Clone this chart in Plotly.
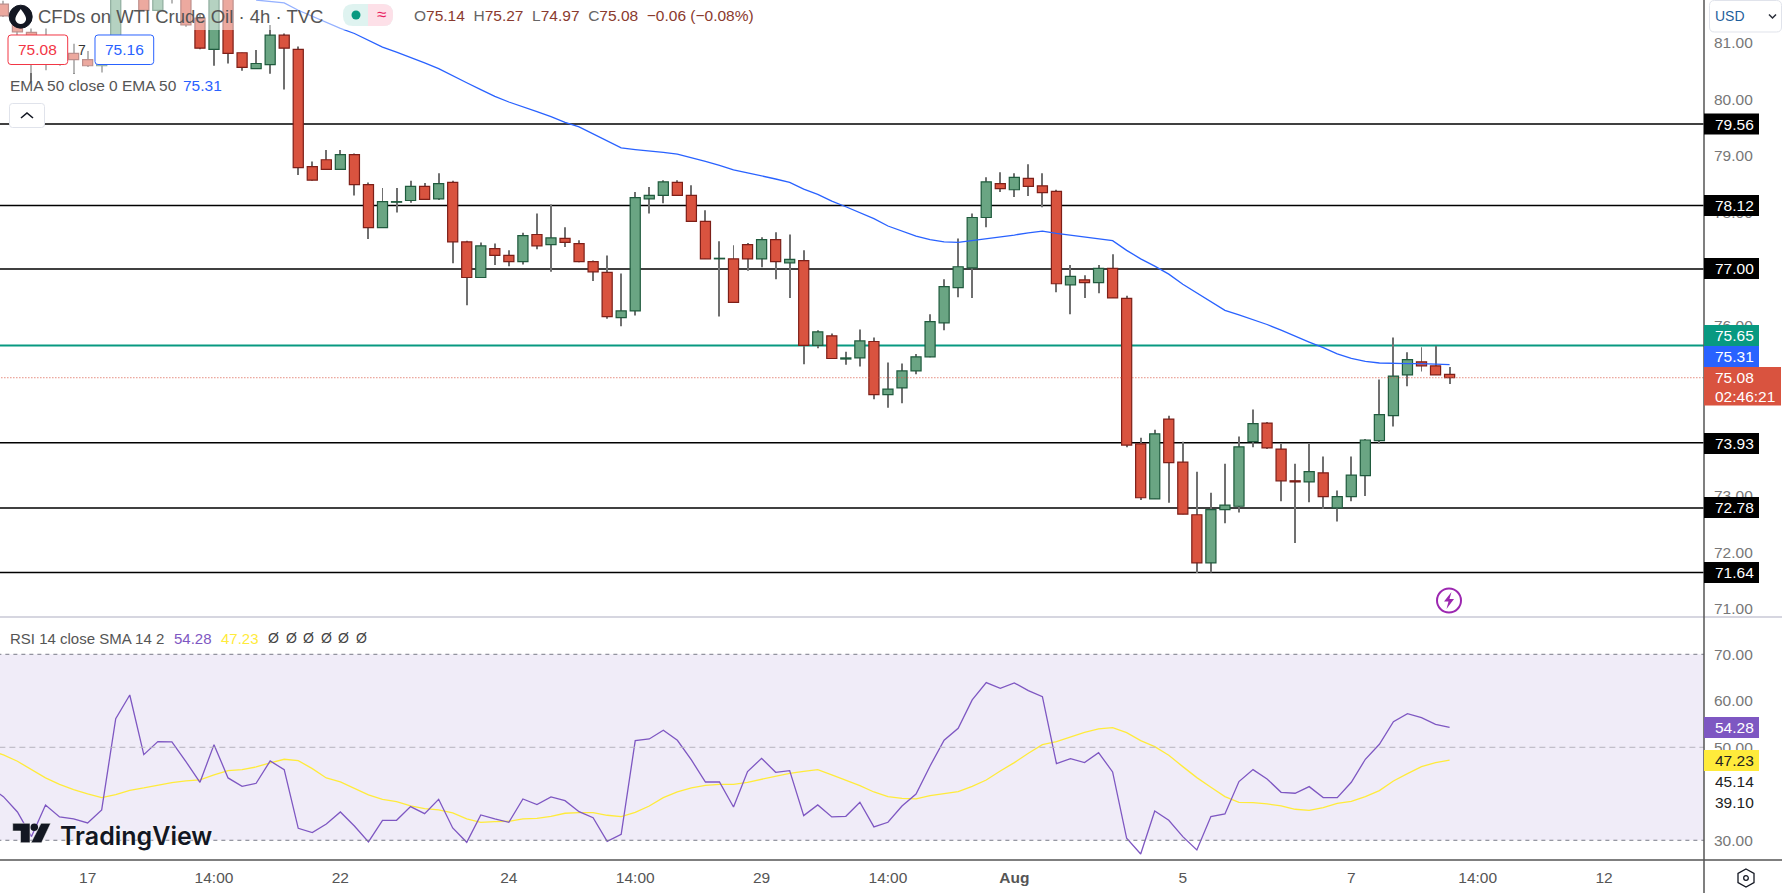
import plotly.graph_objects as go

W, H = 1782, 893

open_prices = [81.68,81.47,81.18,81.10,80.87,80.81,80.70,80.59,80.95,82.00,
 82.60,81.57,81.90,81.95,81.43,80.88,81.85,80.82,80.54,80.61,
 81.13,80.88,78.81,78.93,78.76,79.02,78.49,77.73,78.18,78.21,
 78.46,78.24,78.53,77.48,76.85,77.36,77.24,77.13,77.61,77.43,
 77.54,77.45,77.13,76.94,76.14,76.26,78.24,78.30,78.53,78.30,
 77.84,77.18,77.18,77.43,77.18,77.52,77.11,77.15,75.65,75.82,
 75.41,75.43,75.72,74.78,74.90,75.20,75.45,76.05,76.67,77.02,
 77.91,78.51,78.40,78.60,78.47,78.37,76.72,76.81,76.76,77.01,
 76.48,73.91,72.94,74.35,73.59,72.66,71.81,72.75,72.81,73.95,
 74.28,73.82,73.26,73.24,73.40,72.78,72.98,73.35,73.97,74.41,
 75.13,75.36,75.29,75.14]
high_prices = [81.74,81.50,81.25,81.25,80.95,80.98,80.85,80.98,82.20,82.80,
 82.70,82.00,82.10,82.00,81.50,82.00,81.90,80.82,80.87,81.31,
 81.16,80.93,78.90,79.10,79.10,79.04,78.53,78.43,78.43,78.56,
 78.52,78.69,78.56,77.50,77.47,77.45,77.33,77.64,77.98,78.14,
 77.74,77.51,77.15,77.24,76.92,78.36,78.45,78.57,78.57,78.48,
 78.04,77.49,77.42,77.46,77.56,77.65,77.61,77.33,75.92,75.86,
 75.54,75.93,75.79,75.35,75.33,75.50,76.20,76.82,77.54,77.98,
 78.62,78.71,78.69,78.85,78.69,78.40,77.07,76.89,77.07,77.26,
 76.53,74.02,74.16,74.41,73.95,73.42,73.05,73.56,74.04,74.52,
 74.30,73.91,73.56,73.91,73.69,73.09,73.69,74.00,75.05,75.79,
 75.53,75.62,75.64,75.27]
low_prices = [81.45,81.13,80.31,80.51,80.59,80.45,80.57,80.47,80.81,81.90,
 81.55,81.50,81.69,81.28,80.88,80.59,80.63,80.50,80.54,80.45,
 80.17,78.66,78.56,78.75,78.75,78.30,77.53,77.73,78.00,78.17,
 78.22,78.22,77.10,76.36,76.85,77.07,77.05,77.08,77.35,76.95,
 77.39,77.12,76.79,76.12,75.99,76.18,77.98,78.16,78.29,77.83,
 77.18,76.16,76.40,76.97,77.03,76.82,76.49,75.32,75.60,75.41,
 75.31,75.28,74.70,74.55,74.63,75.14,75.44,75.92,76.50,76.49,
 77.74,78.36,78.27,78.29,78.09,76.59,76.20,76.49,76.57,76.49,
 73.85,72.92,72.94,72.87,72.67,71.63,71.64,72.51,72.70,73.85,
 73.82,72.90,72.16,72.88,72.76,72.54,72.90,72.99,73.91,74.22,
 74.93,75.19,75.13,74.97]
close_prices = [81.47,81.19,80.93,80.87,80.81,80.70,80.59,80.87,82.00,82.60,
 81.57,81.90,81.95,81.31,80.90,81.85,80.81,80.56,80.63,81.13,
 80.90,78.79,78.57,78.76,79.02,78.49,77.73,78.19,78.19,78.46,
 78.23,78.51,77.48,76.85,77.41,77.24,77.13,77.59,77.41,77.55,
 77.47,77.13,76.95,76.16,76.26,78.26,78.30,78.54,78.30,77.84,
 77.18,77.19,76.41,77.18,77.52,77.13,77.17,75.65,75.89,75.42,
 75.43,75.73,74.78,74.88,75.20,75.45,76.07,76.69,77.04,77.91,
 78.54,78.42,78.62,78.46,78.35,76.74,76.87,76.76,77.01,76.49,
 73.89,72.96,74.09,73.58,72.67,71.81,72.75,72.83,73.86,74.27,
 73.84,73.26,73.24,73.42,72.98,72.98,73.36,73.98,74.43,75.11,
 75.40,75.29,75.13,75.08]
ema_50 = [None]*18 + [81.75,81.73,81.70,81.57,81.46,81.35,81.25,81.16,81.04,80.92,
 80.83,80.74,80.64,80.54,80.41,80.29,80.17,80.05,79.95,79.87,
 79.78,79.69,79.59,79.51,79.39,79.26,79.14,79.11,79.09,79.06,
 79.03,78.97,78.90,78.83,78.75,78.70,78.65,78.59,78.53,78.41,
 78.32,78.20,78.10,78.00,77.89,77.76,77.67,77.58,77.52,77.48,
 77.47,77.50,77.53,77.56,77.60,77.64,77.67,77.63,77.60,77.56,
 77.54,77.50,77.33,77.18,77.05,76.91,76.73,76.58,76.43,76.27,
 76.19,76.11,76.02,75.92,75.81,75.71,75.61,75.50,75.42,75.37,
 75.34,75.33,75.33,75.33,75.32,75.31]
# the two RSI lists start one bar earlier, just left of the pane edge
rsi_bars = list(range(-1, 104))
rsi_14 = [41.50,39.39,36.09,30.80,37.60,35.02,34.59,33.73,36.52,56.16,61.25,
 48.42,51.22,51.15,46.92,42.47,50.57,43.41,41.61,42.26,47.06,
 45.20,32.58,31.65,33.51,36.09,33.08,29.64,34.30,34.30,37.24,
 35.73,38.82,32.65,29.57,35.45,34.59,33.87,38.89,37.67,39.32,
 38.53,36.16,34.87,29.78,31.29,51.43,51.79,53.66,51.51,47.28,
 42.54,42.54,37.17,44.77,47.63,44.62,44.98,35.30,37.60,35.02,
 35.16,38.17,32.87,33.87,37.38,39.96,45.99,51.51,54.09,60.18,
 63.91,62.69,63.84,62.19,60.90,46.49,47.56,46.70,48.85,44.70,
 30.43,27.06,36.31,34.30,30.79,27.92,35.09,35.66,42.62,45.20,
 43.19,40.32,40.11,41.54,39.18,39.18,42.47,47.42,50.65,55.52,
 57.24,56.38,54.95,54.28]
rsi_sma = [49.40,48.35,46.99,45.27,43.41,42.04,40.90,39.96,39.18,39.82,40.75,
 41.25,41.90,42.40,42.76,42.97,44.05,44.98,45.20,45.77,46.63,
 47.42,47.13,45.41,43.41,42.54,41.18,39.75,38.82,38.32,37.38,
 36.81,36.52,35.88,34.59,33.87,34.01,34.09,34.59,34.73,35.16,
 35.81,35.95,35.95,35.38,35.09,36.02,37.38,39.18,40.39,41.25,
 41.83,42.04,42.04,42.47,43.12,43.62,44.41,44.84,45.20,44.05,
 42.90,41.76,40.39,39.39,39.03,38.89,39.61,40.11,40.47,41.61,
 42.97,44.91,46.70,48.71,50.57,51.22,52.22,53.23,53.94,54.23,
 53.15,51.43,50.14,48.28,45.84,43.48,41.40,39.39,38.17,38.10,
 37.81,37.38,36.67,36.45,37.03,37.96,38.39,39.39,40.68,42.76,
 44.34,45.84,46.70,47.23]

support_resistance = [79.56, 78.12, 77.00, 73.93, 72.78, 71.64]
teal_level = 75.65
last_price = 75.08
price_ticks = [71, 72, 73, 74, 75, 76, 77, 78, 79, 80, 81]
rsi_ticks = [30, 50, 60, 70]
time_tick_bars = [6, 15, 24, 36, 45, 54, 63, 72, 84, 96, 105, 114]
time_tick_text = ["17", "14:00", "22", "24", "14:00", "29", "14:00", "<b>Aug</b>", "5", "7", "14:00", "12"]

FONT = "Liberation Sans"
RED, RED_EDGE = "#d9533f", "#7d1f18"
GREEN, GREEN_EDGE = "#6aa583", "#1f5a3d"
WICK = "#707070"
PURPLE, YELLOW, BLUE, TEAL = "#7e57c2", "#ffeb3b", "#2962ff", "#089981"

AXIS_X, PRICE_BOTTOM, RSI_BOTTOM = 1704, 617, 860
bars = list(range(len(close_prices)))


def px(x):
    return x / W


def py(y):
    return 1 - y / H


def pt(x, y):
    return f"{px(x):.5f},{py(y):.5f}"


def poly(points):
    return "M" + " L".join(pt(*p) for p in points) + " Z"


def rrect(x0, y0, x1, y1, r):
    return (f"M{pt(x0 + r, y0)} L{pt(x1 - r, y0)} Q{pt(x1, y0)} {pt(x1, y0 + r)} "
            f"L{pt(x1, y1 - r)} Q{pt(x1, y1)} {pt(x1 - r, y1)} L{pt(x0 + r, y1)} "
            f"Q{pt(x0, y1)} {pt(x0, y1 - r)} L{pt(x0, y0 + r)} Q{pt(x0, y0)} {pt(x0 + r, y0)} Z")


shapes, notes = [], []


def rect(x0, y0, x1, y1, fill, opacity=1, layer="above"):
    shapes.append(dict(type="rect", xref="paper", yref="paper", x0=px(x0), x1=px(x1), y0=py(y0), y1=py(y1),
                       fillcolor=fill, opacity=opacity, line_width=0, layer=layer))


def path(d, fill="rgba(0,0,0,0)", line="rgba(0,0,0,0)", width=1):
    shapes.append(dict(type="path", xref="paper", yref="paper", path=d, fillcolor=fill,
                       line=dict(color=line, width=width), layer="above"))


def circle(cx, cy, r, fill="rgba(0,0,0,0)", line="rgba(0,0,0,0)", width=1):
    shapes.append(dict(type="circle", xref="paper", yref="paper", x0=px(cx - r), x1=px(cx + r),
                       y0=py(cy + r), y1=py(cy - r), fillcolor=fill, line=dict(color=line, width=width), layer="above"))


def hline(level, axis, color, width, dash="solid", layer="below"):
    shapes.append(dict(type="line", xref="x", yref=axis, x0=-1, x1=122, y0=level, y1=level,
                       line=dict(color=color, width=width, dash=dash), layer=layer))


def text(x, y, s, color="#555555", size=15, anchor="left", **font):
    notes.append(dict(xref="paper", yref="paper", x=px(x), y=py(y), text=s, showarrow=False,
                      xanchor=anchor, yanchor="middle", borderpad=0,
                      font=dict(family=font.pop("family", FONT), size=size, color=color, **font)))


def price_box(y0, y1, s, bg, color="#ffffff", x1=1759):
    rect(AXIS_X, y0, x1, y1, bg)
    text(1714, (y0 + y1) / 2, s, color=color, size=15.5)


# levels and RSI band
for level in support_resistance:
    hline(level, "y", "#000000", 1.5)
hline(teal_level, "y", TEAL, 2)
hline(last_price, "y", RED, 1, dash="1px,2px", layer="above")
shapes.append(dict(type="rect", xref="x2", yref="y2", x0=-1, x1=122, y0=30, y1=70,
                   fillcolor="#f0ecf8", line_width=0, layer="below"))
hline(70, "y2", "#787b86", 1, dash="4px,4px", layer="above")
hline(50, "y2", "#b5b3bd", 1, dash="6px,4px", layer="above")
hline(30, "y2", "#787b86", 1, dash="4px,4px", layer="above")

# legend fade
rect(0, 0, 395, 30, "#ffffff", 0.5)
rect(0, 30, 155, 73, "#ffffff", 0.5)

# frame
shapes.append(dict(type="line", xref="paper", yref="paper", x0=0, x1=1, y0=py(PRICE_BOTTOM), y1=py(PRICE_BOTTOM),
                   line=dict(color="#d6d6e0", width=2), layer="above"))
shapes.append(dict(type="line", xref="paper", yref="paper", x0=0, x1=1, y0=py(RSI_BOTTOM), y1=py(RSI_BOTTOM),
                   line=dict(color="#555555", width=1.5), layer="above"))
shapes.append(dict(type="line", xref="paper", yref="paper", x0=px(AXIS_X), x1=px(AXIS_X), y0=0, y1=1,
                   line=dict(color="#555555", width=1.5), layer="above"))

# price labels
price_box(113.5, 134.5, "79.56", "#000000")
price_box(195, 216, "78.12", "#000000")
price_box(258, 279, "77.00", "#000000")
price_box(325, 346, "75.65", TEAL)
price_box(346, 367, "75.31", BLUE)
rect(AXIS_X, 367, 1781, 405.5, RED)
text(1714, 377.5, "75.08", color="#ffffff", size=15.5)
text(1714, 396, "02:46:21", color="#ffffff", size=15.5)
price_box(433, 454, "73.93", "#000000")
price_box(497, 518, "72.78", "#000000")
price_box(562, 583, "71.64", "#000000")
price_box(717, 738, "54.28", PURPLE)
price_box(750, 771, "47.23", YELLOW, color="#222222")
text(1714, 781.7, "45.14", color="#222222", size=15.5)
text(1714, 802.7, "39.10", color="#222222", size=15.5)

# USD selector
path(rrect(1709.5, 0.5, 1781.5, 32, 5), fill="#ffffff", line="#e0e3eb")
text(1714, 16.5, "USD", color="#1f5f9c", size=14)
path(f"M{pt(1769, 14.5)} L{pt(1772.5, 18)} L{pt(1776, 14.5)}", line="#2a2e39", width=1.5)

# top legend
circle(20.7, 16.7, 11.5, fill="#131722", line="#131722")
path(f"M{pt(20.7, 9)} Q{pt(27, 17)} {pt(26, 20)} Q{pt(24.5, 24)} {pt(20.7, 24)} "
     f"Q{pt(17, 24)} {pt(15.4, 20)} Q{pt(14.5, 17)} {pt(20.7, 9)} Z", fill="#ffffff")
text(36.5, 16.5, "CFDs on WTI Crude Oil · 4h · TVC", color="#555555", size=18.5)
path(rrect(343, 4, 393, 26, 10), fill="#dff3f0")
rect(368, 4, 383, 26, "#fde0e8")
path(rrect(372, 4, 393, 26, 10), fill="#fde0e8")
circle(356, 15, 4.5, fill=TEAL)
text(381, 15, "≈", color="#e91e63", size=17, anchor="center")
val = "#8a3a2e"
lab = "#666666"
ohlc = (f'<span style="color:{lab}">O</span><span style="color:{val}">75.14</span>  '
        f'<span style="color:{lab}">H</span><span style="color:{val}">75.27</span>  '
        f'<span style="color:{lab}">L</span><span style="color:{val}">74.97</span>  '
        f'<span style="color:{lab}">C</span><span style="color:{val}">75.08</span>  '
        f'<span style="color:{val}">−0.06 (−0.08%)</span>')
text(412.5, 15.5, ohlc, size=15.5)

# order boxes
path(rrect(8, 35, 67.7, 64.5, 3), fill="#ffffff", line="#f23645")
text(37.8, 50, "75.08", color="#f23645", size=15.5, anchor="center")
text(81.7, 50, "7", color="#333333", size=14, anchor="center")
path(rrect(95, 35, 153.7, 64.5, 3), fill="#ffffff", line=BLUE)
text(124.3, 50, "75.16", color=BLUE, size=15.5, anchor="center")

# EMA legend
text(9, 86, "EMA 50 close 0 EMA 50", color="#555555", size=15.5)
text(182, 86, "75.31", color=BLUE, size=15.5)
path(rrect(9.5, 103.5, 44.5, 127.5, 3), fill="#ffffff", line="#e0e3eb")
path(f"M{pt(21, 118)} L{pt(27, 113)} L{pt(33, 118)}", line="#131722", width=1.6)

# RSI legend
text(9, 638, "RSI 14 close SMA 14 2", color="#555555", size=15)
text(173, 638, "54.28", color=PURPLE, size=15)
text(220, 638, "47.23", color=YELLOW, size=15)
for cx in (273, 291, 308, 326, 343, 361):
    text(cx, 638, "Ø", color="#444444", size=14, anchor="center")

# TradingView mark
path(poly([(12.7, 823.3), (30, 823.3), (30, 842.7), (20.5, 842.7), (20.5, 831), (12.7, 831)]), fill="#131722", line="#ffffff", width=0.5)
circle(34.3, 827.3, 3.8, fill="#131722")
path(poly([(41, 823.3), (50.7, 823.3), (41.5, 842.7), (31, 842.7)]), fill="#131722", line="#ffffff", width=0.5)
text(58.5, 835.5, "TradingView", color="#131722", size=25, family="Inter", weight=600, shadow="0 0 3px #ffffff")

# lightning badge
circle(1449, 600.5, 12, line="#9c27b0", width=2)
path(poly([(1451.5, 592), (1444, 601.5), (1448.5, 601.5), (1446.5, 609), (1454, 599), (1449.5, 599)]), fill="#9c27b0")

# settings glyph
path(poly([(1746, 869), (1754, 873.5), (1754, 882.5), (1746, 887), (1738, 882.5), (1738, 873.5)]), line="#131722", width=1.3)
circle(1746, 878, 2.3, line="#131722", width=1.3)

body_base = [min(o, c) for o, c in zip(open_prices, close_prices)]
body_size = [abs(o - c) for o, c in zip(open_prices, close_prices)]
is_up = [c >= o for o, c in zip(open_prices, close_prices)]

fig = go.Figure()
fig.add_trace(go.Bar(x=bars, base=low_prices, y=[h - l for h, l in zip(high_prices, low_prices)],
                     width=0.07, marker=dict(color=WICK, line_width=0), xaxis="x", yaxis="y", hoverinfo="skip"))
fig.add_trace(go.Bar(x=bars, base=body_base, y=body_size, width=0.72,
                     marker=dict(color=[GREEN if u else RED for u in is_up],
                                 line=dict(color=[GREEN_EDGE if u else RED_EDGE for u in is_up], width=1.2)),
                     xaxis="x", yaxis="y", hoverinfo="skip"))
fig.add_trace(go.Scatter(x=bars, y=ema_50, mode="lines", line=dict(color=BLUE, width=1.3), xaxis="x", yaxis="y", hoverinfo="skip"))
fig.add_trace(go.Scatter(x=rsi_bars, y=rsi_sma, mode="lines", line=dict(color=YELLOW, width=1.3), xaxis="x2", yaxis="y2", hoverinfo="skip"))
fig.add_trace(go.Scatter(x=rsi_bars, y=rsi_14, mode="lines", line=dict(color=PURPLE, width=1.3), xaxis="x2", yaxis="y2", hoverinfo="skip"))

x_range = [-0.242, 121.12]
x_domain = [0, AXIS_X / W]
tick_font = dict(family=FONT, size=15.5, color="#777777")
fig.update_layout(
    width=W, height=H, margin=dict(l=0, r=0, t=0, b=0), autosize=False,
    paper_bgcolor="#ffffff", plot_bgcolor="#ffffff", showlegend=False, barmode="overlay",
    shapes=shapes, annotations=notes,
    xaxis=dict(domain=x_domain, range=x_range, anchor="y", showticklabels=False, showgrid=False, zeroline=False,
               showline=False, ticks=""),
    yaxis=dict(domain=[py(PRICE_BOTTOM), 1], range=[70.854, 81.7515], anchor="x", side="right",
               tickvals=price_ticks, ticktext=[f"{t:.2f}" for t in price_ticks], tickfont=tick_font,
               showgrid=False, zeroline=False, showline=False, ticks="", ticklabelstandoff=9),
    xaxis2=dict(domain=x_domain, range=x_range, anchor="y2", tickvals=time_tick_bars, ticktext=time_tick_text,
                tickfont=dict(family=FONT, size=15.5, color="#555555"), showgrid=False, zeroline=False,
                showline=False, ticks="", ticklabelstandoff=6),
    yaxis2=dict(domain=[py(RSI_BOTTOM), py(PRICE_BOTTOM)], range=[25.76, 78.02], anchor="x2", side="right",
                tickvals=rsi_ticks, ticktext=[f"{t:.2f}" for t in rsi_ticks], tickfont=tick_font,
                showgrid=False, zeroline=False, showline=False, ticks="", ticklabelstandoff=9),
)
fig.write_html("out.html", config=dict(displayModeBar=False),
               post_script="document.body.style.margin='0';document.body.style.overflow='hidden';")
